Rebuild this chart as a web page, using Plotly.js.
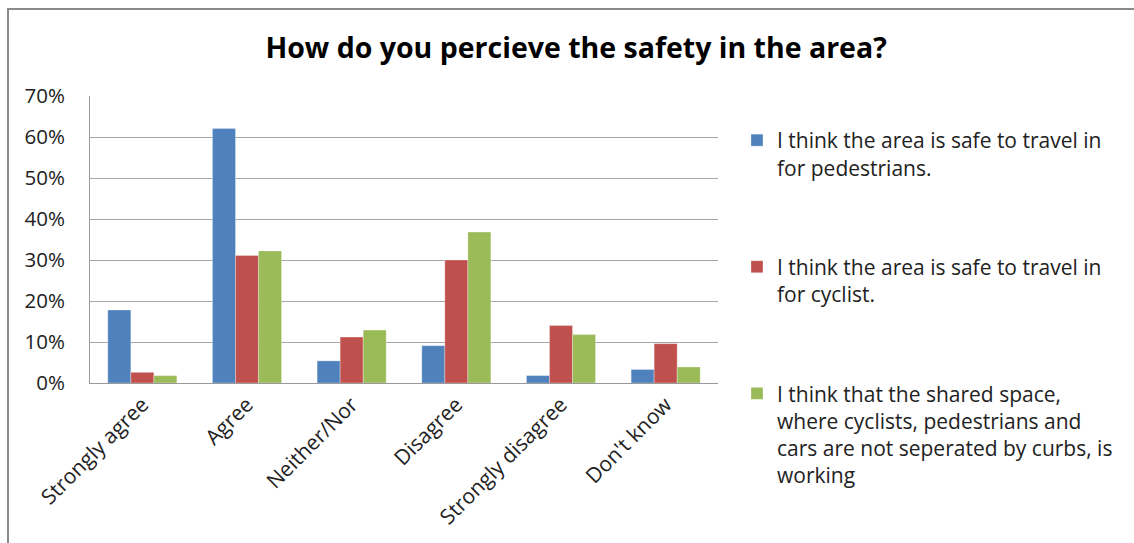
<!DOCTYPE html>
<html>
<head>
<meta charset="utf-8">
<script src="https://cdn.plot.ly/plotly-3.0.1.min.js"></script>
<style>
  html, body { margin: 0; padding: 0; background: #fff; }
  #chart { width: 1134px; height: 543px; }
</style>
</head>
<body>
<div id="chart"></div>
<script>
const categories = ["Strongly agree", "Agree", "Neither/Nor", "Disagree", "Strongly disagree", "Don't know"];
const seriesNames = [
  "I think the area is safe to travel in<br>for pedestrians.",
  "I think the area is safe to travel in<br>for cyclist.",
  "I think that the shared space,<br>where cyclists, pedestrians and<br>cars are not seperated by curbs, is<br>working"
];
const pedestrians = [0.178, 0.621, 0.054, 0.091, 0.018, 0.033];
const cyclists    = [0.026, 0.311, 0.112, 0.300, 0.140, 0.096];
const sharedSpace = [0.018, 0.322, 0.129, 0.368, 0.118, 0.039];
const colors = ["#4F81BD", "#C0504D", "#9BBB59"];
const yTicks = [0, 0.1, 0.2, 0.3, 0.4, 0.5, 0.6, 0.7];

const seriesValues = [pedestrians, cyclists, sharedSpace];
const traces = seriesValues.map((vals, i) => ({
  type: "bar",
  x: categories,
  y: vals,
  name: seriesNames[i],
  legendgroup: "g" + i,
  marker: { color: colors[i], line: { color: "rgba(255,255,255,0.6)", width: 0.5 } },
  hoverinfo: "x+y"
}));

const font = "Open Sans, Noto Sans, sans-serif";
const layout = {
  width: 1134,
  height: 543,
  paper_bgcolor: "#fff",
  plot_bgcolor: "#fff",
  margin: { l: 90, r: 416, t: 96, b: 160 },
  barmode: "group",
  bargap: 0.34,
  bargroupgap: 0,
  title: {
    text: "<b>How do you percieve the safety in the area?</b>",
    font: { family: font, size: 28.5, color: "#000" },
    x: 0.508, xref: "container", xanchor: "center",
    y: 0.912, yref: "container", yanchor: "middle"
  },
  xaxis: {
    type: "category",
    tickangle: -45,
    tickfont: { family: font, size: 21, color: "#222" },
    showline: true, linecolor: "#999", linewidth: 1,
    showgrid: false,
    ticks: "",
    fixedrange: true
  },
  yaxis: {
    range: [0, 0.7],
    tickvals: yTicks,
    tickformat: ".0%",
    tickfont: { family: font, size: 20.5, color: "#222" },
    showline: true, linecolor: "#999", linewidth: 1,
    showgrid: true, gridcolor: "#a6a6a6", gridwidth: 1,
    zeroline: false,
    ticks: "outside", ticklen: 0,
    ticklabelstandoff: 20,
    fixedrange: true
  },
  legend: {
    x: (737 - 90) / 628, xanchor: "left",
    y: (383 - 120) / 287, yanchor: "top",
    valign: "top",
    tracegroupgap: 69,
    maxheight: 500,
    font: { family: font, size: 21, color: "#222" },
    itemwidth: 30,
    traceorder: "grouped",
    bgcolor: "rgba(0,0,0,0)"
  },
  shapes: [
    {
      type: "rect", xref: "paper", yref: "paper",
      x0: (8 - 90) / 628, x1: (1200 - 90) / 628,
      y0: (160 - 600) / 287, y1: (543 - 9 - 160) / 287,
      line: { color: "#8a8a8a", width: 2 }, fillcolor: "rgba(0,0,0,0)", layer: "below"
    }
  ]
};

Plotly.newPlot("chart", traces, layout, { displayModeBar: false, staticPlot: true });
</script>
</body>
</html>
